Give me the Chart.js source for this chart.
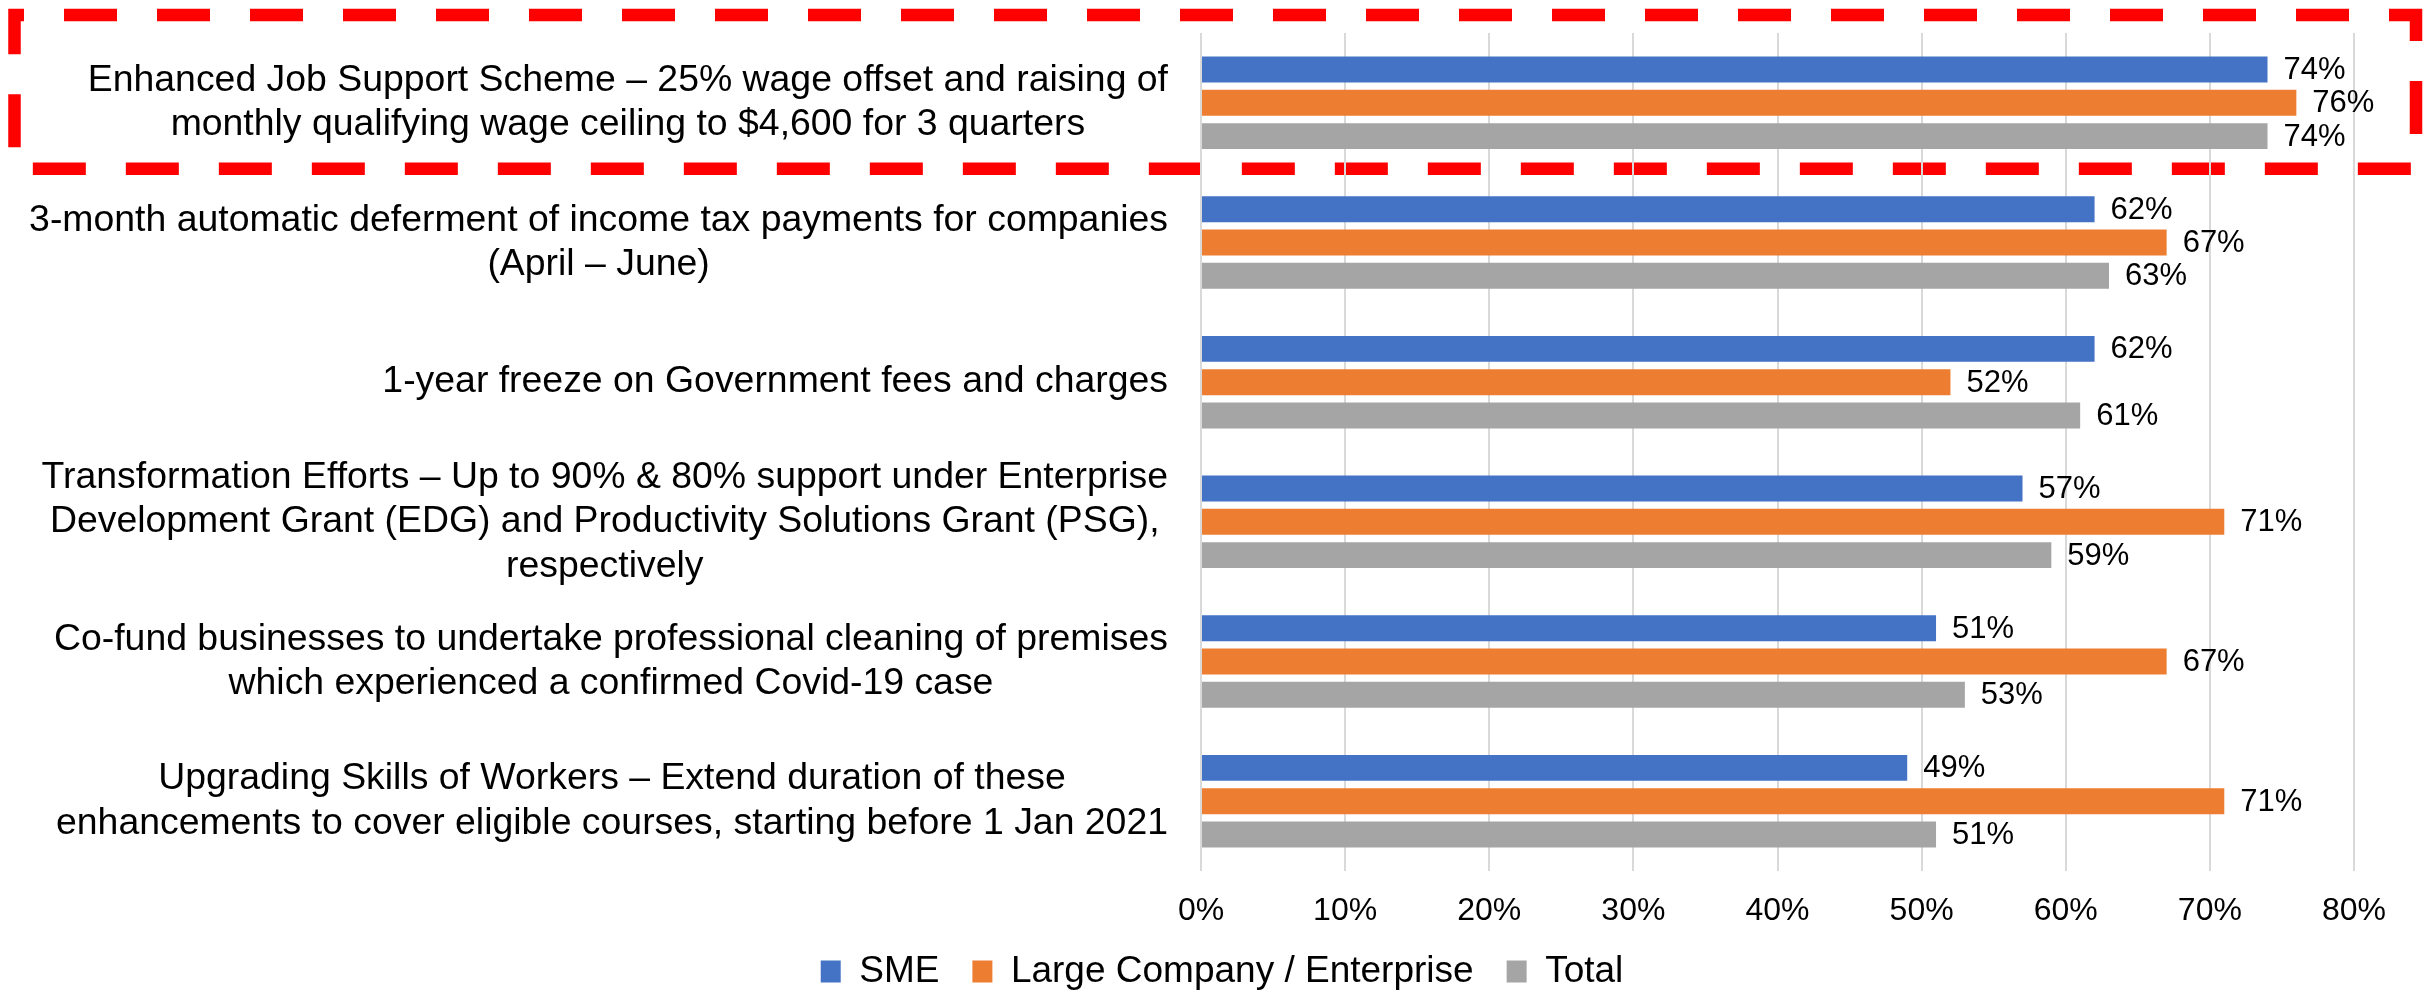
<!DOCTYPE html>
<html>
<head>
<meta charset="utf-8">
<script src="https://cdn.jsdelivr.net/npm/chart.js@4.4.1/dist/chart.umd.min.js"></script>
<style>
  html, body { margin: 0; padding: 0; background: #ffffff; }
  #wrap { width: 2430px; height: 992px; position: relative; }
</style>
</head>
<body>
<div id="wrap"><canvas id="chart1"></canvas></div>
<script>
// categories (one array of lines per measure)
var measures = [
    ["Enhanced Job Support Scheme \u2013 25% wage offset and raising of", "monthly qualifying wage ceiling to $4,600 for 3 quarters"],
    ["3-month automatic deferment of income tax payments for companies", "(April \u2013 June)"],
    ["1-year freeze on Government fees and charges"],
    ["Transformation Efforts \u2013 Up to 90% & 80% support under Enterprise", "Development Grant (EDG) and Productivity Solutions Grant (PSG),", "respectively"],
    ["Co-fund businesses to undertake professional cleaning of premises", "which experienced a confirmed Covid-19 case"],
    ["Upgrading Skills of Workers \u2013 Extend duration of these", "enhancements to cover eligible courses, starting before 1 Jan 2021"]
];
var seriesNames = ["SME", "Large Company / Enterprise", "Total"];
var smeValues = [74, 62, 62, 57, 51, 49];
var largeValues = [76, 67, 52, 71, 67, 71];
var totalValues = [74, 63, 61, 59, 53, 51];
var xTicks = [0, 10, 20, 30, 40, 50, 60, 70, 80];

var fontFamily = "'Liberation Sans', Arial, sans-serif";

// left labels: block right-aligned to the axis, lines centred inside the block
var measureLabels = {
    id: "measureLabels",
    afterDraw: function(chart) {
        var ctx = chart.ctx;
        var y = chart.scales.y;
        var lineH = 44.5;
        ctx.save();
        ctx.font = "37.4px " + fontFamily;
        ctx.fillStyle = "#000000";
        ctx.textAlign = "center";
        ctx.textBaseline = "middle";
        measures.forEach(function(lines, i) {
            var w = 0;
            lines.forEach(function(l) { w = Math.max(w, ctx.measureText(l).width); });
            var cx = chart.chartArea.left - 33 - w / 2;
            var cy = y.getPixelForValue(i);
            var y0 = cy - (lines.length - 1) * lineH / 2;
            lines.forEach(function(l, k) { ctx.fillText(l, cx, y0 + k * lineH); });
        });
        ctx.restore();
    }
};

// value labels at the end of every bar
var valueLabels = {
    id: "valueLabels",
    afterDatasetsDraw: function(chart) {
        var ctx = chart.ctx;
        ctx.save();
        ctx.font = "31px " + fontFamily;
        ctx.fillStyle = "#000000";
        ctx.textAlign = "left";
        ctx.textBaseline = "middle";
        chart.data.datasets.forEach(function(ds, d) {
            chart.getDatasetMeta(d).data.forEach(function(bar, i) {
                ctx.fillText(ds.data[i] + "%", bar.x + 16, bar.y + 1);
            });
        });
        ctx.restore();
    }
};

// red dashed highlight around the first measure
var highlight = {
    id: "highlight",
    beforeDraw: function(chart) {
        var ctx = chart.ctx;
        var y = chart.scales.y;
        var top = chart.chartArea.top - 18;
        var bottom = y.getPixelForValue(0) + 66;
        ctx.save();
        ctx.strokeStyle = "#ff0000";
        ctx.lineWidth = 12.5;
        ctx.setLineDash([53, 40]);
        ctx.lineDashOffset = 43.5;
        ctx.strokeRect(14.5, top, chart.width - 14.5 - 14, bottom - top);
        ctx.restore();
    }
};

new Chart("chart1", {
    type: "bar",
    data: {
        labels: measures.map(function(m) { return m.join(" "); }),
        datasets: [
            { label: seriesNames[0], data: smeValues, backgroundColor: "#4472C4" },
            { label: seriesNames[1], data: largeValues, backgroundColor: "#ED7D31" },
            { label: seriesNames[2], data: totalValues, backgroundColor: "#A5A5A5" }
        ]
    },
    plugins: [highlight, valueLabels, measureLabels],
    options: {
        indexAxis: "y",
        responsive: true,
        maintainAspectRatio: false,
        animation: false,
        categoryPercentage: 0.715,
        barPercentage: 0.78,
        layout: { padding: { top: 33, right: 0, bottom: -8, left: 14 } },
        scales: {
            x: {
                min: 0,
                max: 80,
                afterBuildTicks: function(scale) {
                    scale.ticks = xTicks.map(function(v) { return { value: v }; });
                },
                afterFit: function(scale) { scale.height = 49; },
                grid: { color: "#d9d9d9", lineWidth: 2, drawTicks: false },
                border: { display: false },
                ticks: {
                    padding: 21,
                    color: "#000000",
                    font: { family: fontFamily, size: 32 },
                    callback: function(v) { return v + "%"; }
                }
            },
            y: {
                afterFit: function(scale) { scale.width = 1187; },
                grid: { display: false },
                border: { display: false },
                ticks: { display: false }
            },
            // empty right-hand strip that keeps room for the value labels
            yRight: {
                type: "category",
                position: "right",
                afterFit: function(scale) { scale.width = 76; },
                grid: { display: false },
                border: { display: false },
                ticks: { display: false }
            }
        },
        plugins: {
            legend: {
                position: "bottom",
                labels: {
                    boxWidth: 20,
                    boxHeight: 22,
                    padding: 33,
                    color: "#000000",
                    font: { family: fontFamily, size: 37 }
                }
            },
            tooltip: { enabled: false }
        }
    }
});
</script>
</body>
</html>
